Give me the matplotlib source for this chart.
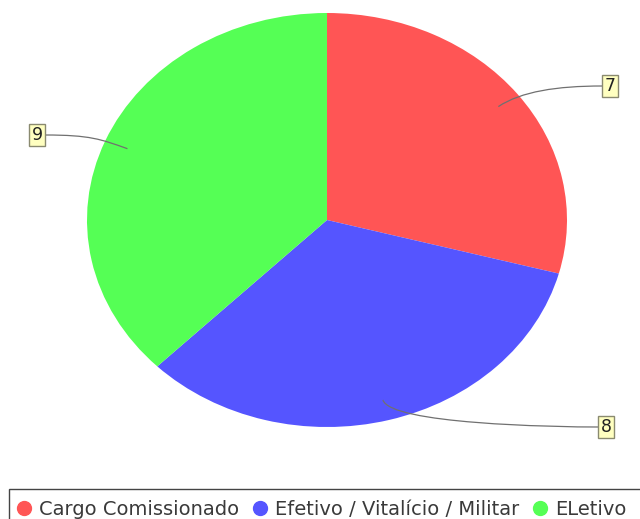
import numpy as np
import matplotlib
matplotlib.use("Agg")
import matplotlib.pyplot as plt
from matplotlib.path import Path
from matplotlib.patches import PathPatch, Rectangle

# data
categories = ["Cargo Comissionado", "Efetivo / Vitalício / Militar", "ELetivo"]
values = [7, 8, 9]
colors = ["#FF5555", "#5555FF", "#55FF55"]

# label box centers (pixels from top-left)
label_pos = [(610, 86), (606, 427), (37, 135)]

W, H = 640, 519
CX, CY, RX, RY = 327, 220, 240, 207


def px(x, y):
    return ((x - CX) / RX, (CY - y) / RY)


fig = plt.figure(figsize=(W / 100, H / 100), dpi=100)
ax = fig.add_axes([0, 0, 1, 1])
ax.pie(values, colors=colors, startangle=90, counterclock=False,
       wedgeprops=dict(linewidth=0))
ax.set_aspect("auto")
ax.set_xlim(-CX / RX, (W - CX) / RX)
ax.set_ylim(-(H - CY) / RY, CY / RY)
ax.axis("off")

# labels with curved leader lines
total = float(sum(values))
start = 90.0
for v, (lx, ly) in zip(values, label_pos):
    span = 360.0 * v / total
    mid = np.radians(start - span / 2)
    start -= span
    p0 = (0.9 * np.cos(mid), 0.9 * np.sin(mid))
    p1 = (1.02 * np.cos(mid), 1.02 * np.sin(mid))
    side = 1 if lx > CX else -1
    ex = lx - side * 8
    p3 = px(ex, ly)
    p2 = px(ex - side * 45, ly)
    path = Path([p0, p1, p2, p3], [Path.MOVETO, Path.CURVE4, Path.CURVE4, Path.CURVE4])
    ax.add_patch(PathPatch(path, facecolor="none", edgecolor="#707070", lw=0.9))
    tx, ty = px(lx, ly)
    ax.text(tx, ty, str(v), ha="center", va="center", fontsize=12.5, color="#222222",
            bbox=dict(boxstyle="square,pad=0.12", facecolor="#FFFFC0",
                      edgecolor="#8a8a70", lw=1.0))

# legend
fig.patches.append(Rectangle((9 / W, -0.1), 2.0, (H - 489) / H + 0.1,
                             transform=fig.transFigure, facecolor="none",
                             edgecolor="#444444", lw=1.0))
fig.canvas.draw()
renderer = fig.canvas.get_renderer()
x = 24
base_y = 1 - 515 / H
dot_y = 1 - 507.5 / H
for name, c in zip(categories, colors):
    fig.lines.append(plt.Line2D([x / W], [dot_y], transform=fig.transFigure,
                                marker="o", markersize=10, color=c, lw=0))
    t = fig.text((x + 15) / W, base_y, name, fontsize=14, color="#3a3a3a",
                 va="baseline", ha="left")
    bb = t.get_window_extent(renderer)
    x = bb.x1 + 21

fig.savefig("out.png", dpi=100, facecolor="white")
